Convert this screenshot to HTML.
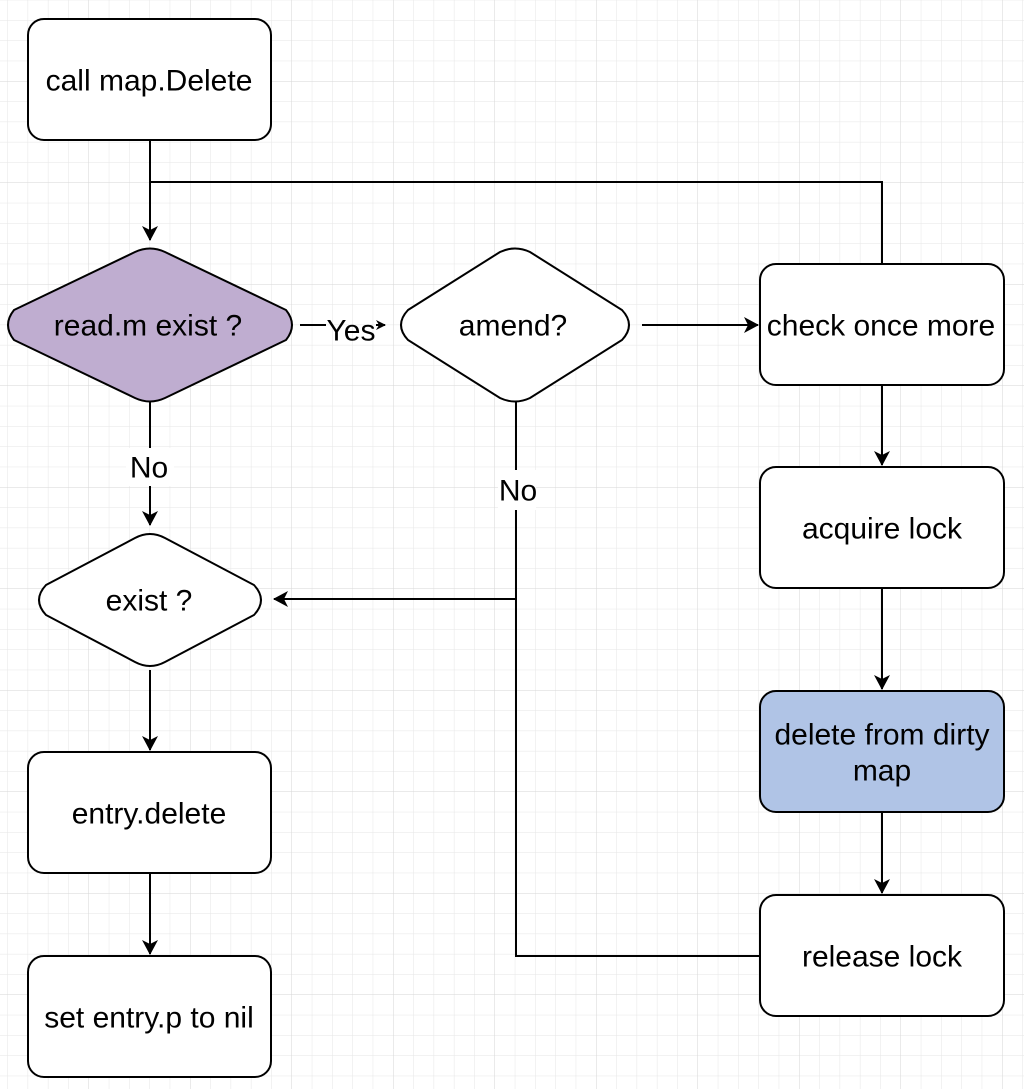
<!DOCTYPE html>
<html><head><style>
body{margin:0;width:1024px;height:1089px;overflow:hidden;background:#fff;}
svg{position:absolute;left:0;top:0}
text{font-family:"Liberation Sans",sans-serif;font-size:30px;fill:#000;text-anchor:middle;dominant-baseline:central}
</style></head><body>
<svg width="1024" height="1089" viewBox="0 0 1024 1089">
<defs>
<pattern id="g" width="20.3" height="20.3" patternUnits="userSpaceOnUse" x="88.5" y="81">
<path d="M0 0H20.3M0 0V20.3" stroke="#e6e6e6" stroke-width="1" fill="none"/>
</pattern>
<pattern id="G" width="101.5" height="101.5" patternUnits="userSpaceOnUse" x="88.5" y="81">
<path d="M0 0H101.5M0 0V101.5" stroke="#d6d6d6" stroke-width="1" fill="none"/>
</pattern>
<marker id="a" markerWidth="10" markerHeight="10" refX="9" refY="5" orient="auto" markerUnits="userSpaceOnUse"><path d="M0 0L10 5L0 10L3 5Z" fill="#000"/></marker>
<marker id="b" markerWidth="20" markerHeight="20" refX="14" refY="8" orient="auto" markerUnits="userSpaceOnUse"><path d="M0 0L15 8L0 16L4 8Z" fill="#000"/></marker>
</defs>
<rect width="1024" height="1089" fill="url(#g)"/>
<rect width="1024" height="1089" fill="url(#G)"/>
<g stroke="#000" stroke-width="2" fill="none">
<path d="M150 140V240" marker-end="url(#b)"/>
<path d="M150 182H882V264"/>
<path d="M300 325H326"/>
<path d="M376 325H385" marker-end="url(#a)"/>
<path d="M642 325H758" marker-end="url(#b)"/>
<path d="M882 385V465" marker-end="url(#b)"/>
<path d="M882 588V689" marker-end="url(#b)"/>
<path d="M882 812V893" marker-end="url(#b)"/>
<path d="M760 956H516V402"/>
<path d="M516 599H274" marker-end="url(#b)"/>
<path d="M150 402V525" marker-end="url(#b)"/>
<path d="M150 670V750" marker-end="url(#b)"/>
<path d="M150 873V954" marker-end="url(#b)"/>
</g>
<g stroke="#000" stroke-width="2">
<rect x="28" y="19" width="243" height="121" rx="16" fill="#fff"/>
<path d="M14 310L135 252Q150 245 165 252L286 310Q298 325 286 340L165 398Q150 405 135 398L14 340Q2 325 14 310Z" fill="#bfadd0"/>
<path d="M408 310L500 252Q515 245 530 252L622 310Q636 325 622 340L530 398Q515 405 500 398L408 340Q394 325 408 310Z" fill="#fff"/>
<rect x="760" y="264" width="244" height="121" rx="16" fill="#fff"/>
<rect x="760" y="467" width="244" height="121" rx="16" fill="#fff"/>
<rect x="760" y="691" width="244" height="121" rx="16" fill="#b0c4e6"/>
<rect x="760" y="895" width="244" height="121" rx="16" fill="#fff"/>
<path d="M46 585L135 538Q150 530 165 538L254 585Q268 600 254 615L165 662Q150 670 135 662L46 615Q32 600 46 585Z" fill="#fff"/>
<rect x="28" y="752" width="243" height="121" rx="16" fill="#fff"/>
<rect x="28" y="956" width="243" height="121" rx="16" fill="#fff"/>
</g>
<rect x="498" y="470" width="38" height="40" fill="#fff"/>
<rect x="126" y="448" width="48" height="38" fill="#fff"/>
<text x="149" y="81">call map.Delete</text>
<text x="148" y="326">read.m exist ?</text>
<text x="351" y="331">Yes</text>
<text x="513" y="326">amend?</text>
<text x="881" y="326">check once more</text>
<text x="882" y="529">acquire lock</text>
<text x="882" y="735">delete from dirty</text>
<text x="882" y="771">map</text>
<text x="882" y="957">release lock</text>
<text x="149" y="468">No</text>
<text x="518" y="491">No</text>
<text x="149" y="601">exist ?</text>
<text x="149" y="814">entry.delete</text>
<text x="149" y="1018">set entry.p to nil</text>
</svg>
</body></html>
